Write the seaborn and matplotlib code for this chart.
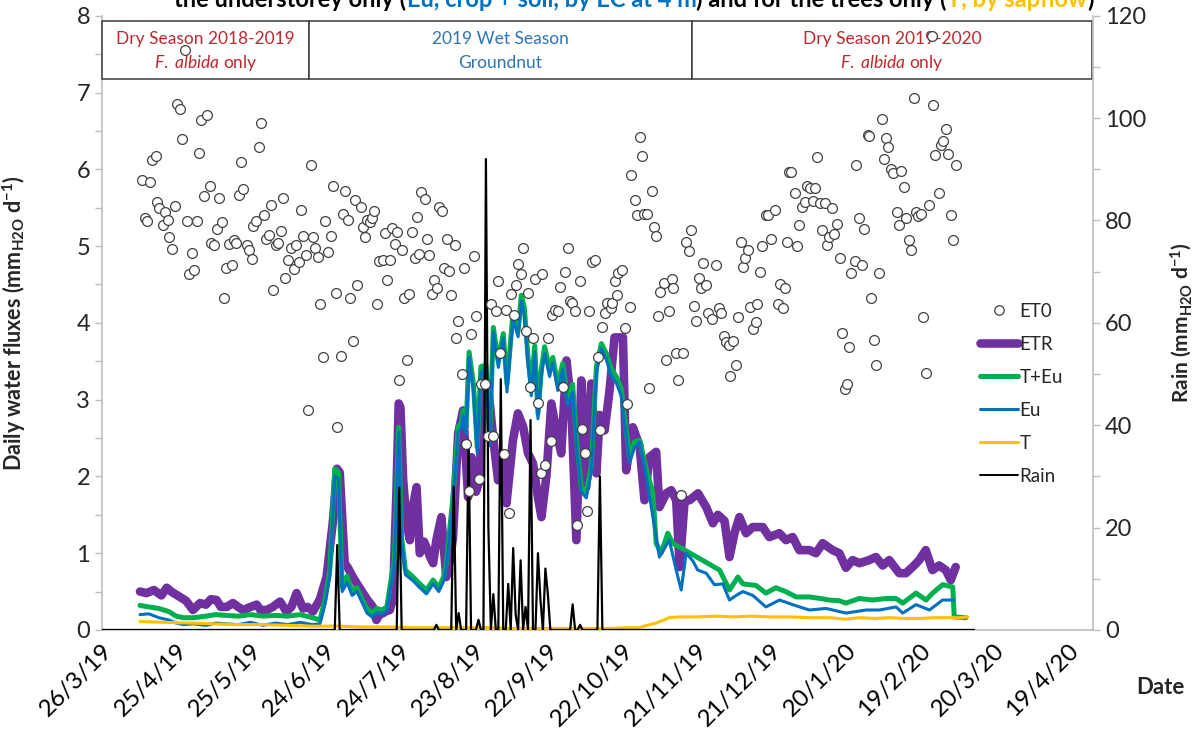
import numpy as np
import pandas as pd
import matplotlib
matplotlib.use("Agg")
import matplotlib.pyplot as plt
import matplotlib.dates as mdates
from matplotlib.patches import Rectangle
from matplotlib.lines import Line2D
from matplotlib.ticker import FixedLocator, FuncFormatter, MultipleLocator
import seaborn as sns

# ---------------- data (days counted from 26/3/2019) ----------------
etr_days = [15.4,18,21,24,26.2,28,31.5,34,36.8,39.6,
            42,44,46.3,48,50.4,52.9,55,57,60,62.5,
            64,66.5,69,71.9,74.5,76.5,78.6,81.2,83,85.2,
            88,90.7,93.3,94.9,96,98,99.5,101.3,103,105.4,
            107,109.4,110.8,112,113.5,115,116.2,117.5,118.9,119.8,
            120.5,121.6,123,124.3,125.5,127,128.3,130,131,132.5,
            133.7,135,137,139,140.5,141.7,143.8,145.8,147.8,149.2,
            151,152.5,153.8,155.8,157.9,159.9,161.9,163.3,165.9,167.9,
            170,172,174,176,177.4,179.4,181.4,183.4,185.4,187.5,
            189.5,191.5,193.5,195.5,197.5,199.6,200.9,202.9,204.9,206.9,
            209,210.3,211.6,214.3,217,219,221,223.7,225,227.8,
            229.8,231.8,233.2,235.2,237.2,240.6,243.9,246.6,248.6,251.3,
            253.3,255.3,257.3,260,262.7,266.7,269.4,273.4,276.1,278.8,
            281.5,285.5,288.2,290.9,294.9,297.6,300.3,303,305.7,309.7,
            312.4,315.1,317.8,321.8,324.5,327.2,329.9,332.5,335.2,337.9,
            340.6,342.6,344.6]
etr_vals = [0.50,0.48,0.52,0.45,0.55,0.50,0.43,0.38,0.26,0.35,
            0.33,0.40,0.39,0.30,0.30,0.35,0.30,0.26,0.30,0.33,
            0.26,0.26,0.30,0.37,0.24,0.30,0.48,0.28,0.30,0.24,
            0.40,0.69,1.43,2.10,2.05,0.87,0.80,0.69,0.60,0.48,
            0.40,0.30,0.13,0.20,0.22,0.25,0.26,0.40,1.80,2.95,
            2.90,1.95,1.40,1.17,1.60,1.86,1.00,1.15,1.08,0.95,
            0.87,1.17,1.47,0.69,0.90,1.20,2.56,2.86,1.73,2.25,
            1.80,1.95,3.30,3.20,2.51,1.95,2.20,1.65,2.47,2.82,
            2.65,2.30,2.17,1.73,1.47,2.00,2.95,2.60,2.30,3.51,
            2.90,1.17,3.25,1.86,3.21,2.04,2.80,2.60,3.12,3.81,
            3.81,3.81,2.08,2.64,2.40,1.69,2.25,2.32,1.60,1.78,
            1.82,1.69,0.82,1.69,1.69,1.78,1.60,1.39,1.50,1.42,
            0.95,1.26,1.47,1.26,1.34,1.34,1.21,1.26,1.17,1.21,
            1.04,1.04,1.00,1.13,1.04,1.00,0.81,0.91,0.87,0.91,
            0.95,0.84,0.91,0.74,0.74,0.82,0.91,1.04,0.78,0.84,
            0.78,0.65,0.82]

tpe_days = [15.4,19,23,27,30,33,37,42,46,50,
            55,60,65,70,75,80,85,88,90,92,
            94,95.5,97,99,101,103,105,107,109,111,
            113,115,116.5,118,119.8,121,122.5,125.6,128,131,
            133.7,136,138,139,141.7,143.8,145,145.8,147,148.2,
            150,151.5,153,155,156.5,158,160,162,163.5,165.9,
            168,169.3,170.5,172,173.3,174.7,176,177.4,178.7,180.7,
            182,184,186,188,190,191.5,193.5,195.5,197.5,199.6,
            201.6,203.6,205.6,207.6,209.6,211.6,213,215,217,219.7,
            222.4,223.7,225.7,228.4,230.4,249.3,253.3,256.7,258.7,264,
            268,272,276,280.2,285.5,290,293.6,297.6,300.3,305.7,
            311,316.5,320.5,323.2,328.6,332.6,335.3,339.3,343.4,344.0,
            348.7]
tpe_vals = [0.32,0.30,0.28,0.24,0.18,0.16,0.16,0.18,0.20,0.19,
            0.18,0.20,0.18,0.19,0.18,0.20,0.16,0.13,0.39,0.78,
            2.10,2.05,0.56,0.70,0.50,0.55,0.40,0.28,0.22,0.28,
            0.26,0.30,0.61,0.90,2.64,1.20,0.78,0.69,0.61,0.52,
            0.65,0.55,0.70,0.87,1.73,2.64,2.70,2.86,2.64,3.62,
            3.20,2.38,3.43,3.45,2.47,3.94,3.50,3.86,3.20,4.12,
            3.90,4.36,4.20,3.55,3.16,3.70,2.82,3.40,3.69,3.40,
            3.55,3.20,3.47,3.00,3.20,2.51,1.86,1.80,2.12,3.43,
            3.73,3.60,3.40,3.30,3.15,2.60,2.25,2.45,2.47,2.10,
            1.78,1.13,1.00,1.26,1.13,0.78,0.52,0.69,0.60,0.58,
            0.48,0.55,0.50,0.43,0.43,0.41,0.39,0.38,0.35,0.41,
            0.39,0.41,0.41,0.35,0.48,0.39,0.48,0.59,0.56,0.17,
            0.16]

eu_days = [15.4,19,23,27,30,33,37,42,46,50,
           55,60,65,70,75,80,85,88,90,92,
           94,95.5,97,99,101,103,105,107,109,111,
           113,115,116.5,118,119.8,121,122.5,125.6,128,131,
           133.7,136,138,139,141.7,143.8,145,145.8,147,148.2,
           150,151.5,153,155,156.5,158,160,162,163.5,165.9,
           168,169.3,170.5,172,173.3,174.7,176,177.4,178.7,180.7,
           182,184,186,188,190,191.5,193.5,195.5,197.5,199.6,
           201.6,203.6,205.6,207.6,209.6,211.6,213,215,217,219.7,
           222.4,225,229,231.8,233.8,235.8,238.5,240.5,243.9,247.2,
           250.6,253.3,256,258.7,262.7,268,273.5,278.8,285.5,292.3,
           300.3,308.4,313.8,320.5,323.2,328.6,334,339.3,344]
eu_vals = [0.20,0.21,0.16,0.13,0.09,0.07,0.08,0.06,0.09,0.08,
           0.07,0.10,0.06,0.09,0.07,0.10,0.07,0.08,0.33,0.70,
           2.00,1.98,0.50,0.62,0.45,0.50,0.36,0.22,0.17,0.22,
           0.21,0.25,0.55,0.85,2.58,1.15,0.72,0.64,0.56,0.47,
           0.60,0.50,0.64,0.82,1.66,2.58,2.62,2.80,2.55,3.55,
           3.10,2.30,3.35,3.40,2.40,3.88,3.42,3.80,3.10,4.05,
           3.82,4.28,4.10,3.45,3.05,3.62,2.75,3.32,3.60,3.30,
           3.48,3.12,3.40,2.92,3.10,2.42,1.80,1.72,2.05,3.35,
           3.66,3.52,3.30,3.22,3.05,2.52,2.18,2.38,2.45,2.00,
           1.47,0.95,1.17,0.78,0.52,1.00,0.90,0.78,0.74,0.59,
           0.60,0.39,0.45,0.50,0.45,0.30,0.39,0.33,0.26,0.28,
           0.22,0.26,0.26,0.30,0.22,0.33,0.26,0.39,0.39]

t_days = [15.4,25,35,45,55,65,75,85,95,105,
          115,125,135,145,155,165,175,185,195,205,
          213,217,220,223.7,226,229,233,240,248,255,
          262,270,278,286,294,300,306,312,318,324,
          330,336,342,346,349.5]
t_vals = [0.11,0.10,0.09,0.08,0.07,0.07,0.06,0.05,0.05,0.04,
          0.04,0.03,0.03,0.03,0.03,0.02,0.02,0.02,0.02,0.02,
          0.03,0.03,0.06,0.09,0.12,0.16,0.17,0.17,0.18,0.17,
          0.18,0.17,0.17,0.16,0.16,0.14,0.16,0.15,0.16,0.15,
          0.15,0.16,0.16,0.16,0.17]

rain_days = [95,120,135,142,144,148,152,155,156,158,161,164,166,167,
             169,171,173,176,177,179,180,190,193,201]
rain_mm = [16.6,27.8,1.0,28.0,3.3,37.0,2.0,92.0,20.0,7.0,49.0,9.0,16.0,3.0,
           13.6,4.5,41.0,15.0,6.0,12.0,7.0,5.0,1.0,30.0]
rain_last_day = 352

et0_days = [16.1,17.4,18.4,19.4,20.1,21.7,22.4,23.1,24.5,25.3,
            26.6,27.2,28.2,29.5,30.2,31.5,32.3,33.5,34.5,35.3,
            36.5,37.3,38.5,39.3,40.1,41.3,42.3,43.6,44.0,45.2,
            46.3,47.3,48.5,49.3,50.3,51.3,52.4,53.3,54.1,55.5,
            56.3,57.1,58.4,59.2,60.4,61.2,62.4,63.4,64.2,65.4,
            66.2,67.6,68.2,69.2,70.2,71.2,72.4,73.2,74.1,75.2,
            76.2,77.5,78.3,79.4,80.2,81.3,82.3,83.1,84.4,85.3,
            86.1,87.3,88.0,89.3,90.1,91.3,92.3,93.1,94.3,95.1,
            96.5,97.3,98.1,99.3,100.1,101.2,102.1,102.9,104.4,105.2,
            106.3,107.1,108.3,109.2,110.0,111.2,111.9,113.5,114.3,115.1,
            116.2,117.0,118.4,119.2,120.0,121.1,122.0,123.3,124.0,125.2,
            126.2,127.0,128.0,129.0,130.3,131.1,131.9,133.3,134.1,135.3,
            136.0,137.4,138.1,139.1,140.1,141.1,142.4,143.1,143.9,145.2,
            146.0,147.1,148.1,148.9,150.1,150.9,152.2,153.2,154.8,155.9,
            157.2,157.9,159.2,160.0,160.7,162.3,163.0,164.2,165.0,166.2,
            167.2,168.0,169.2,170.0,171.3,172.0,172.9,174.0,174.9,176.0,
            177.1,177.8,179.0,179.9,181.1,181.8,182.9,184.0,184.9,186.1,
            186.9,188.3,188.8,189.9,191.1,191.9,193.0,193.8,195.1,195.9,
            196.7,197.9,199.0,200.1,200.9,201.7,203.0,204.0,205.3,206.0,
            206.9,207.9,208.5,210.0,211.0,212.0,213.0,213.7,215.0,216.0,
            217.0,218.0,219.0,220.0,220.8,222.0,222.7,223.7,224.4,225.1,
            226.8,227.8,229.0,229.9,230.6,231.8,232.7,233.8,234.6,235.7,
            236.8,237.7,238.9,239.9,240.9,241.7,242.7,243.9,244.7,246.1,
            247.7,248.9,249.8,251.0,252.0,253.0,253.7,254.8,256.0,256.7,
            258.0,258.8,259.6,260.8,261.5,262.9,263.8,264.6,265.8,266.6,
            268.0,268.8,270.1,271.6,272.8,273.5,274.8,275.8,276.6,277.5,
            278.2,279.8,280.7,281.5,282.7,283.7,284.6,285.7,286.9,287.7,
            288.5,289.7,290.7,291.7,292.7,293.6,294.6,295.5,296.7,297.7,
            298.9,299.9,300.6,301.7,302.5,304.0,304.5,305.5,306.8,307.6,
            309.1,309.5,310.4,311.6,312.4,313.5,314.7,315.8,316.5,317.4,
            318.6,319.4,320.9,321.6,322.5,323.6,324.4,325.9,326.7,327.8,
            328.4,329.4,330.7,331.4,332.7,333.7,335.0,335.6,336.4,337.7,
            338.5,339.5,340.5,341.5,342.6,343.5,344.8]
et0_vals = [5.86,5.36,5.32,5.83,6.12,6.17,5.57,5.49,5.27,5.45,
            5.34,5.12,4.96,5.52,6.85,6.78,6.40,7.55,5.33,4.64,
            4.91,4.69,5.32,6.21,6.64,5.65,6.71,5.78,5.04,5.02,
            5.22,5.63,5.31,4.33,4.72,5.03,4.75,5.08,5.04,5.66,
            6.10,5.74,5.02,4.95,4.83,5.26,5.33,6.29,6.60,5.40,
            5.09,5.14,5.53,4.43,5.01,5.04,5.20,5.63,4.58,4.82,
            4.98,4.70,5.01,4.79,5.47,5.13,4.88,2.87,6.05,5.12,
            4.97,4.86,4.25,3.56,5.32,4.92,5.13,5.78,4.39,2.65,
            3.57,5.42,5.72,5.34,4.33,3.77,5.60,4.49,5.51,5.25,
            5.12,5.34,5.31,5.36,5.46,4.25,4.81,4.82,5.17,4.56,
            4.82,5.24,5.03,5.18,3.26,4.95,4.32,3.51,4.38,5.18,
            4.85,5.38,4.90,5.70,5.61,5.09,4.88,4.38,4.56,4.45,
            5.51,5.46,4.71,5.09,4.68,4.36,5.01,3.80,4.03,3.34,
            4.71,2.42,1.81,3.85,4.87,4.09,1.96,3.21,3.21,2.52,
            4.24,2.52,4.15,4.54,3.61,2.29,4.17,1.52,4.37,4.10,
            4.49,4.77,4.64,4.98,3.89,4.39,3.16,3.80,4.57,2.96,
            2.05,4.63,2.15,3.80,2.46,4.10,4.17,4.16,4.47,3.17,
            4.66,4.97,4.28,4.26,4.15,1.37,4.55,2.62,2.30,1.55,
            4.15,4.79,4.82,3.55,2.61,3.94,4.13,4.26,4.19,4.26,
            4.55,4.36,4.65,4.69,3.93,2.94,4.20,5.93,5.60,5.40,
            6.42,6.17,5.42,5.42,3.15,5.72,5.25,5.13,4.09,4.40,
            4.52,3.51,4.16,4.57,4.46,3.61,3.25,1.76,3.61,5.05,
            4.94,5.21,4.22,4.03,4.59,4.45,4.78,4.49,4.13,4.05,
            4.75,4.19,4.13,3.83,3.75,3.71,3.31,3.76,3.45,4.07,
            5.05,4.73,4.84,4.95,4.21,3.92,4.01,4.25,4.66,5.00,
            5.40,5.40,5.09,5.47,4.24,4.50,4.19,4.46,5.05,5.97,
            5.97,5.69,5.00,5.27,5.51,5.57,5.78,5.75,5.59,5.76,
            6.16,5.56,5.21,5.56,5.02,5.12,5.49,5.16,5.29,4.85,
            3.87,3.14,3.20,3.68,4.65,4.81,6.05,5.36,4.75,5.22,
            6.45,6.43,4.33,3.78,3.45,4.65,6.65,6.14,6.41,6.29,
            6.01,5.95,5.44,5.27,5.98,5.77,5.37,5.08,4.95,6.93,
            5.45,5.39,5.42,4.07,3.35,5.53,7.73,6.84,6.18,5.69,
            6.32,6.37,6.53,6.20,5.40,5.08,6.05]

season_labels = ["Dry Season 2018-2019", "2019 Wet Season", "Dry Season 2019-2020"]
season_sub = [r"$\mathit{F.\ albida}$ only", "Groundnut", r"$\mathit{F.\ albida}$ only"]
season_bounds = [0, 83.5, 238, 399.7]

tick_days = list(range(0, 391, 30))

# ---------------- styling ----------------
sns.set_theme(style="white")
plt.rcParams["font.family"] = ["Lato", "DejaVu Sans"]
plt.rcParams["mathtext.fontset"] = "custom"
plt.rcParams["mathtext.rm"] = "Lato"
plt.rcParams["mathtext.it"] = "Lato:italic"
plt.rcParams["mathtext.bf"] = "Lato:bold"

C_ETR = "#7030A0"
C_TPE = "#00B050"
C_EU = "#0070C0"
C_T = "#FFC000"
C_DRY = "#C0282D"
C_WET = "#2E75B6"
GRAY = "#BFBFBF"

BASE = pd.Timestamp("2019-03-26")
def to_dates(days):
    return BASE + pd.to_timedelta(np.asarray(days, dtype=float), unit="D")

fig = plt.figure(figsize=(11.94, 7.35), dpi=100)
ax = fig.add_axes([0.0853, 0.1429, 0.8301, 0.8357])
ax2 = ax.twinx()
ax3 = ax.twinx()

def line(days, vals, color, lw, a, z):
    df = pd.DataFrame({"date": to_dates(days), "v": vals})
    sns.lineplot(data=df, x="date", y="v", ax=a, color=color, linewidth=lw,
                 sort=False, estimator=None, legend=False, zorder=z,
                 solid_capstyle="round", solid_joinstyle="round")

line(etr_days, etr_vals, C_ETR, 6.2, ax, 2)
line(tpe_days, tpe_vals, C_TPE, 3.6, ax, 3)
line(eu_days, eu_vals, C_EU, 2.2, ax, 4)
line(t_days, t_vals, C_T, 2.2, ax, 5)

rain_series = pd.Series(0.0, index=np.arange(0, rain_last_day + 1))
rain_series.loc[rain_days] = rain_mm
rdf = pd.DataFrame({"date": to_dates(rain_series.index), "v": rain_series.values})
sns.lineplot(data=rdf, x="date", y="v", ax=ax2, color="black", linewidth=1.6,
             sort=False, estimator=None, legend=False)

edf = pd.DataFrame({"date": to_dates(et0_days), "v": et0_vals})
sns.scatterplot(data=edf, x="date", y="v", ax=ax3, s=50, facecolor="white",
                edgecolor="#404040", linewidth=0.9, legend=False, zorder=10)

# season boxes
for i in range(3):
    x0 = mdates.date2num(to_dates([season_bounds[i]])[0])
    x1 = mdates.date2num(to_dates([season_bounds[i + 1]])[0])
    ax.add_patch(Rectangle((x0, 7.18), x1 - x0, 0.75, facecolor="white",
                           edgecolor="#3a3a3a", lw=1.1, zorder=6, clip_on=False))
    col = C_WET if i == 1 else C_DRY
    xc = (x0 + x1) / 2
    ax.text(xc, 7.70, season_labels[i], ha="center", va="center", fontsize=12.5,
            color=col, zorder=7)
    ax.text(xc, 7.39, season_sub[i], ha="center", va="center", fontsize=12.5,
            color=col, zorder=7)

# axes limits & ticks
xmin = mdates.date2num(to_dates([0])[0])
xmax = mdates.date2num(to_dates([400])[0])
for a in (ax, ax2, ax3):
    a.set_xlim(xmin, xmax)
ax.set_ylim(0, 8)
ax3.set_ylim(0, 8)
ax2.set_ylim(0, 120)

tick_nums = [mdates.date2num(d) for d in to_dates(tick_days)]
ax.xaxis.set_major_locator(FixedLocator(tick_nums))
ax.xaxis.set_major_formatter(FuncFormatter(
    lambda v, p: (lambda d: f"{d.day}/{d.month}/{d.strftime('%y')}")(mdates.num2date(v))))
ax.tick_params(axis="x", labelsize=17.5, colors="black", length=5, width=1,
               direction="out", color=GRAY, pad=2)
plt.setp(ax.get_xticklabels(), rotation=45, ha="right", rotation_mode="anchor")

ax.yaxis.set_major_locator(MultipleLocator(1))
ax.yaxis.set_minor_locator(MultipleLocator(0.5))
ax.tick_params(axis="y", which="both", direction="out", color=GRAY, width=1, labelsize=17)
ax.tick_params(axis="y", which="major", length=5)
ax.tick_params(axis="y", which="minor", length=5)
ax.yaxis.set_major_formatter(FuncFormatter(lambda v, p: f"{int(v)}"))

ax2.yaxis.set_major_locator(MultipleLocator(20))
ax2.yaxis.set_minor_locator(MultipleLocator(10))
ax2.tick_params(axis="y", which="both", direction="out", color=GRAY, width=1,
                labelsize=17, length=5)
ax2.yaxis.set_major_formatter(FuncFormatter(lambda v, p: f"{int(v)}"))

for s in ("top", "right"):
    ax.spines[s].set_visible(False)
for s in ("left", "bottom"):
    ax.spines[s].set_color(GRAY)
    ax.spines[s].set_linewidth(1.2)
for s in ("top", "left", "bottom"):
    ax2.spines[s].set_visible(False)
ax2.spines["right"].set_color(GRAY)
ax2.spines["right"].set_linewidth(1.2)
for s in ax3.spines.values():
    s.set_visible(False)
ax3.set_yticks([])
ax3.set_ylabel("")
ax3.set_xlabel("")
ax2.set_xlabel("")

ax.set_xlabel("")
ax.set_ylabel(r"Daily water fluxes (mm$_{\mathregular{H2O}}$ d$^{\mathregular{-1}}$)",
              fontsize=15.5, fontweight="bold")
ax.yaxis.set_label_coords(-0.0745, 0.5)
ax2.set_ylabel(r"Rain (mm$_{\mathregular{H2O}}$ d$^{\mathregular{-1}}$)",
               fontsize=15, fontweight="bold", rotation=90, va="center", ha="center")
ax2.yaxis.set_label_coords(1.0885, 0.5)
fig.text(1160 / 1194, 1 - 688 / 735, "Date", ha="center", va="center",
         fontsize=16, fontweight="bold")

# legend
handles = [
    Line2D([], [], ls="", marker="o", ms=6.8, mfc="white", mec="#404040", mew=0.9),
    Line2D([], [], color=C_ETR, lw=6.2, solid_capstyle="round"),
    Line2D([], [], color=C_TPE, lw=3.6, solid_capstyle="round"),
    Line2D([], [], color=C_EU, lw=2.2),
    Line2D([], [], color=C_T, lw=2.2),
    Line2D([], [], color="black", lw=1.4),
]
labels = ["ET0", "ETR", "T+Eu", "Eu", "T", "Rain"]
ax3.legend(handles, labels, loc="upper left", bbox_to_anchor=(980 / 1194, 1 - 303 / 735),
           bbox_transform=fig.transFigure, frameon=False, fontsize=13.5,
           handlelength=2.0, handletextpad=0.1, labelspacing=0.85,
           borderpad=0, borderaxespad=0)

# title, cut off at the top edge as in the reference
parts = [("the understorey only (", "black"), ("Eu, crop + soil, by EC at 4 m", C_EU),
         (") and for the trees only (", "black"), ("T, by sapflow", C_T), (")", "black")]
renderer = fig.canvas.get_renderer()
texts, widths = [], []
for s, c in parts:
    t = fig.text(0, 1 - 7 / 735, s, color=c, fontsize=17, fontweight="bold",
                 ha="left", va="baseline")
    widths.append(t.get_window_extent(renderer).width)
    texts.append(t)
x = 634 - sum(widths) / 2
for t, w in zip(texts, widths):
    t.set_x(x / 1194)
    x += w

fig.savefig("out.png", dpi=100)
